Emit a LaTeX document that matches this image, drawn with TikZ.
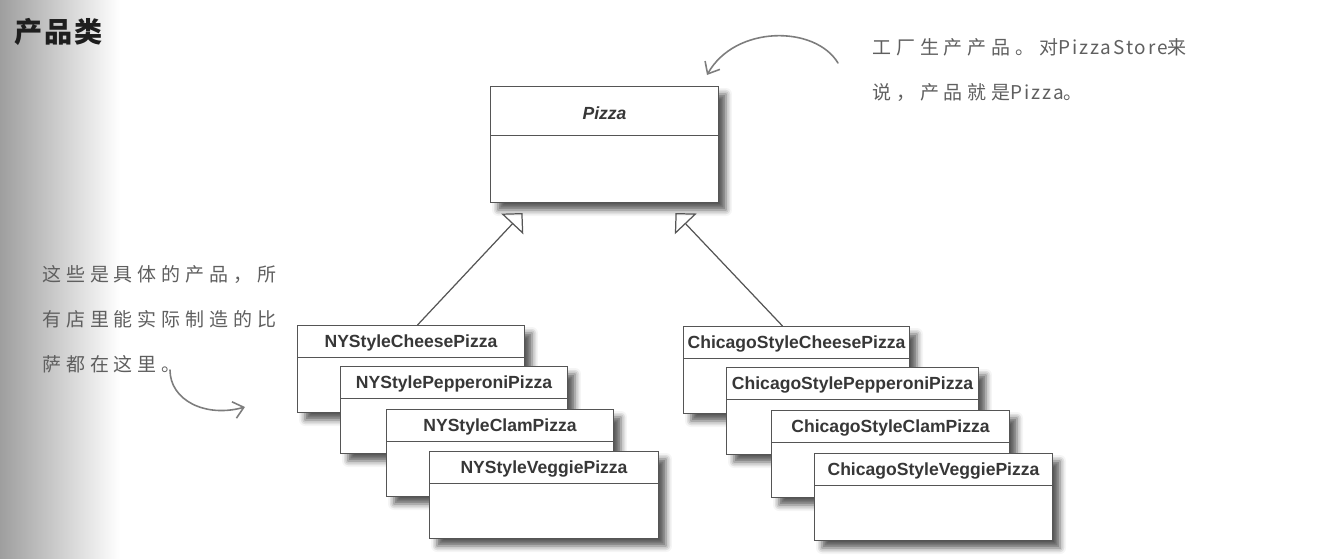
\documentclass[tikz,border=0pt]{standalone}
\usepackage{fontspec}
\setsansfont{Liberation Sans}
\newfontfamily\cjktitle[LetterSpace=8]{Noto Sans CJK SC}
\newfontfamily\cjknote[LetterSpace=26]{Noto Sans CJK SC}
\newfontfamily\latinnote[LetterSpace=10]{Noto Sans CJK SC}
\usepackage{tikz}
\usetikzlibrary{arrows.meta,shadows.blur}
\definecolor{cLine}{RGB}{85,85,85}
\definecolor{cText}{RGB}{55,55,55}
\definecolor{cNote}{RGB}{95,95,95}
\definecolor{cHand}{RGB}{125,125,125}
\definecolor{cTitle}{RGB}{30,30,30}
\newcommand{\latin}[1]{{\latinnote\fontsize{10.8}{25.5}\selectfont#1}}

\tikzset{
  header/.store in=\classheader,
  header=0.64cm,
  classbox/.style={draw=cLine, fill=white, line width=0.6pt, anchor=north west,
    minimum width=#1, inner sep=0pt, text height=0.44cm, text depth=1.30cm,
    font=\sffamily\bfseries\fontsize{10}{12}\selectfont, text=cText,
    blur shadow={shadow xshift=0.15cm, shadow yshift=-0.15cm, shadow blur radius=0.12cm, shadow opacity=65},
    path picture={\draw[cLine, line width=0.6pt]
      ([yshift=-\classheader]path picture bounding box.north west) --
      ([yshift=-\classheader]path picture bounding box.north east);}},
  classbox/.default=4.54cm,
  inherit/.style={draw=cLine, line width=0.7pt, -{Triangle[open, length=0.3cm, width=0.6cm]}},
  note/.style={cNote, align=left, anchor=west, font=\cjknote\fontsize{10.8}{25.5}\selectfont},
  hand/.style={cHand, line width=0.9pt, line cap=round, -{Straight Barb[length=0.2cm, width=0.34cm]}},
}

\begin{document}
\begin{tikzpicture}[x=0.02cm, y=-0.02cm]
  \useasboundingbox (0,0) rectangle (1331,558);
  % page edge
  \shade[left color=black!38, right color=white] (0,0) rectangle (120,558);
  \node[cTitle, anchor=west, font=\cjktitle\bfseries\fontsize{16}{16}\selectfont] (title) at (8,32) {产品类};
  % abstract product
  \node[classbox=4.56cm, header=0.98cm, text height=0.66cm, text depth=1.66cm,
    font=\sffamily\bfseries\itshape\fontsize{10}{12}\selectfont] (pizza) at (490,86) {Pizza};
  % NY pizzas
  \node[classbox] (nyCheese) at (297,325) {NYStyleCheesePizza};
  \node[classbox] (nyPepperoni) at (340,366) {NYStylePepperoniPizza};
  \node[classbox] (nyClam) at (386,409) {NYStyleClamPizza};
  \node[classbox=4.58cm] (nyVeggie) at (429,451) {NYStyleVeggiePizza};
  % Chicago pizzas
  \node[classbox=4.52cm] (chiCheese) at (683,326) {ChicagoStyleCheesePizza};
  \node[classbox=5.04cm] (chiPepperoni) at (726,367) {ChicagoStylePepperoniPizza};
  \node[classbox=4.76cm] (chiClam) at (771,410) {ChicagoStyleClamPizza};
  \node[classbox=4.76cm] (chiVeggie) at (814,453) {ChicagoStyleVeggiePizza};
  % inheritance
  \draw[inherit] ([xshift=0.13cm]nyCheese.north) -- ([xshift=-1.64cm,yshift=-0.2cm]pizza.south);
  \draw[inherit] ([xshift=-0.28cm]chiCheese.north) -- ([xshift=1.42cm,yshift=-0.2cm]pizza.south);
  % notes
  \node[note] (factoryNote) at (866,70) {工厂生产产品。对\latin{PizzaStore}来\\说，产品就是\latin{Pizza}。};
  \node[note] (concreteNote) at (36,319) {这些是具体的产品，所\\有店里能实际制造的比\\萨都在这里。};
  \coordinate (factoryTail) at (838,63);
  \coordinate (factoryTip) at (707,75);
  \draw[hand] (factoryTail) .. controls (815,25) and (735,25) .. (factoryTip);
  \coordinate (concreteTail) at (170,370);
  \coordinate (concreteTip) at (245,407);
  \draw[hand] (concreteTail) .. controls (170,400) and (205,418) .. (concreteTip);
\end{tikzpicture}
\end{document}
